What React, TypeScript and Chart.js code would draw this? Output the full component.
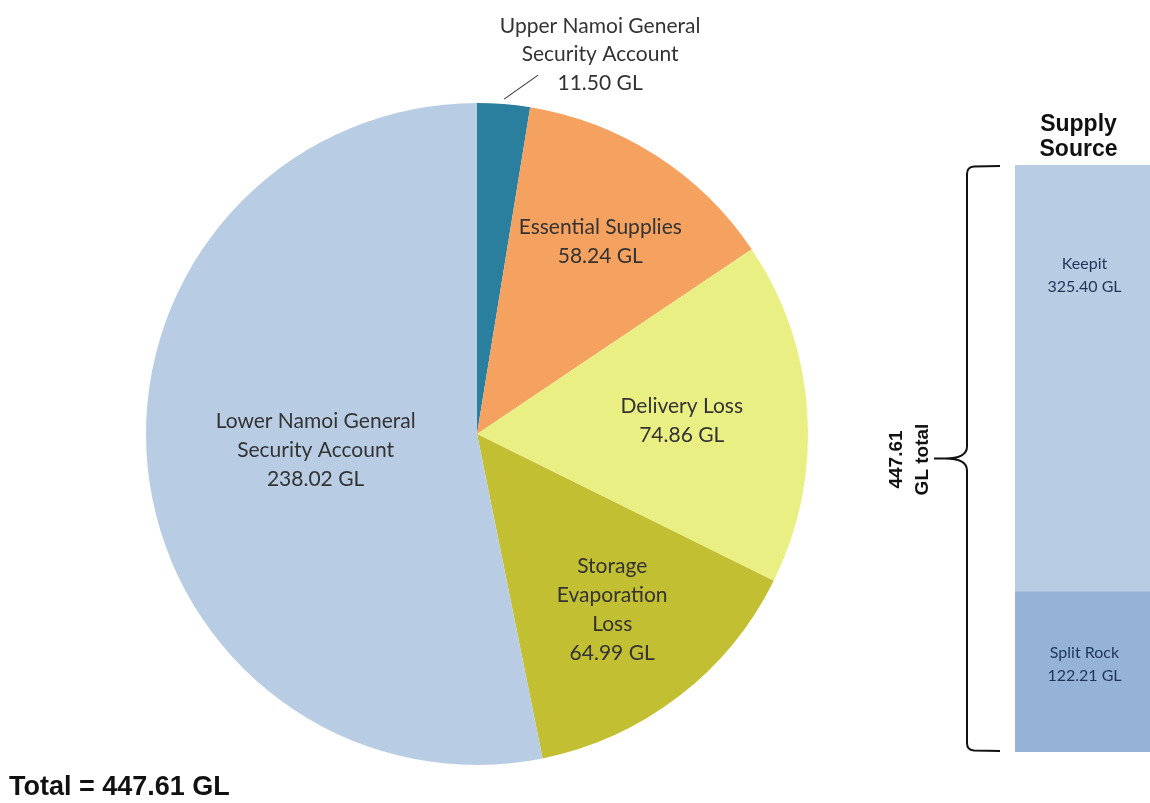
import React, { useEffect, useRef } from "react";
import { Chart, registerables } from "chart.js";

Chart.register(...registerables);

// ---------- data ----------
const categories = [
  "Upper Namoi General Security Account",
  "Essential Supplies",
  "Delivery Loss",
  "Storage Evaporation Loss",
  "Lower Namoi General Security Account",
];
const volumes = [11.5, 58.24, 74.86, 64.99, 238.02];
const labelLines = [
  ["Upper Namoi General", "Security Account"],
  ["Essential Supplies"],
  ["Delivery Loss"],
  ["Storage", "Evaporation", "Loss"],
  ["Lower Namoi General", "Security Account"],
];
const supplySources = ["Split Rock", "Keepit"];
const supplyVolumes = [122.21, 325.4];
const totalVolume = 447.61;
const totalText = "Total = 447.61 GL";
const supplyTitle = ["Supply", "Source"];
const bracketText = ["447.61", "GL total"];

// ---------- styles ----------
const sliceColors = ["#2b7f9e", "#f5a160", "#e9ef83", "#c3bf33", "#b8cce4"];
const supplyColors = ["#95b3d7", "#b8cce4"];
const labelRadius = [1.0, 0.69, 0.62, 0.67, 0.49];
const PIE_FONT = '"Lato", "Open Sans", sans-serif';
const BOLD_FONT = '"Liberation Sans", Arial, sans-serif';

const gl = (v: number) => `${v.toFixed(2)} GL`;

export default function App() {
  const pieRef = useRef<HTMLCanvasElement>(null);
  const barRef = useRef<HTMLCanvasElement>(null);

  useEffect(() => {
    const pieLabels = {
      id: "pieLabels",
      afterDraw(chart: any) {
        const ctx = chart.ctx;
        const meta = chart.getDatasetMeta(0);
        ctx.save();
        ctx.font = `21px ${PIE_FONT}`;
        ctx.fillStyle = "#333333";
        ctx.textAlign = "center";
        ctx.textBaseline = "middle";
        const lh = 29;
        meta.data.forEach((arc: any, i: number) => {
          const p = arc.getProps(["x", "y", "startAngle", "endAngle", "outerRadius"], true);
          const mid = (p.startAngle + p.endAngle) / 2;
          const lines = [...labelLines[i], gl(volumes[i])];
          if (i === 0) {
            const r = p.outerRadius * 1.015;
            const x1 = p.x + Math.cos(mid) * r;
            const y1 = p.y + Math.sin(mid) * r;
            ctx.strokeStyle = "#404040";
            ctx.lineWidth = 1.2;
            ctx.beginPath();
            ctx.moveTo(x1, y1);
            ctx.lineTo(x1 + 34, y1 - 24);
            ctx.stroke();
            const cx = x1 + 96;
            const lastY = y1 - 16;
            lines.forEach((t, k) => {
              ctx.fillText(t, cx, lastY - (lines.length - 1 - k) * 28.5);
            });
          } else {
            const r = p.outerRadius * labelRadius[i];
            const cx = p.x + Math.cos(mid) * r;
            const cy = p.y + Math.sin(mid) * r;
            const y0 = cy - ((lines.length - 1) * lh) / 2;
            lines.forEach((t, k) => ctx.fillText(t, cx, y0 + k * lh));
          }
        });
        ctx.font = `bold 27px ${BOLD_FONT}`;
        ctx.fillStyle = "#111";
        ctx.textAlign = "left";
        ctx.fillText(totalText, 9, 788);
        ctx.restore();
      },
    };

    const pie = new Chart(pieRef.current!, {
      type: "pie",
      data: {
        labels: categories,
        datasets: [
          {
            data: volumes,
            backgroundColor: sliceColors,
            borderWidth: 0,
          },
        ],
      },
      options: {
        animation: false,
        responsive: false,
        layout: { padding: { left: 146, top: 103, right: 342, bottom: 38 } },
        plugins: { legend: { display: false }, tooltip: { enabled: false } },
      },
      plugins: [pieLabels],
    });

    const barDecor = {
      id: "barDecor",
      afterDraw(chart: any) {
        const ctx = chart.ctx;
        const a = chart.chartArea;
        ctx.save();
        // segment labels
        ctx.font = `16px ${PIE_FONT}`;
        ctx.fillStyle = "#1f3558";
        ctx.textAlign = "center";
        ctx.textBaseline = "middle";
        supplySources.forEach((name, i) => {
          const el: any = chart.getDatasetMeta(i).data[0];
          const p = el.getProps(["x", "y", "base"], true);
          const top = Math.min(p.y, p.base);
          const bot = Math.max(p.y, p.base);
          const cy = i === 1 ? top + 110 : (top + bot) / 2 - 8;
          ctx.fillText(name, p.x + 2, cy - 11);
          ctx.fillText(gl(supplyVolumes[i]), p.x + 2, cy + 12);
        });
        // title
        ctx.font = `bold 23px ${BOLD_FONT}`;
        ctx.fillStyle = "#111";
        const tx = (a.left + a.right) / 2 - 4;
        ctx.fillText(supplyTitle[0], tx, a.top - 40);
        ctx.fillText(supplyTitle[1], tx, a.top - 15);
        // bracket
        const top = a.top + 1;
        const bot = a.bottom - 1;
        const mid = (top + bot) / 2;
        const xv = a.left - 48;
        const xe = a.left - 15;
        const xt = xv - 33;
        ctx.strokeStyle = "#111";
        ctx.lineWidth = 2;
        ctx.beginPath();
        ctx.moveTo(xe, top);
        ctx.lineTo(xv + 7, top + 0.5);
        ctx.quadraticCurveTo(xv, top + 1, xv, top + 8);
        ctx.lineTo(xv, mid - 12);
        ctx.quadraticCurveTo(xv, mid, xv - 22, mid);
        ctx.lineTo(xt, mid);
        ctx.moveTo(xv - 22, mid);
        ctx.quadraticCurveTo(xv, mid, xv, mid + 12);
        ctx.lineTo(xv, bot - 8);
        ctx.quadraticCurveTo(xv, bot - 1, xv + 7, bot - 0.5);
        ctx.lineTo(xe, bot);
        ctx.stroke();
        // rotated total text
        ctx.translate(xv - 57, mid + 1);
        ctx.rotate(-Math.PI / 2);
        ctx.font = `bold 19px ${BOLD_FONT}`;
        ctx.fillText(bracketText[0], 0, -13);
        ctx.fillText(bracketText[1], 0, 13);
        ctx.restore();
      },
    };

    const bar = new Chart(barRef.current!, {
      type: "bar",
      data: {
        labels: ["Supply Source"],
        datasets: supplySources.map((name, i) => ({
          label: name,
          data: [supplyVolumes[i]],
          backgroundColor: supplyColors[i],
          borderWidth: 0,
          barPercentage: 1,
          categoryPercentage: 1,
        })),
      },
      options: {
        animation: false,
        responsive: false,
        layout: { padding: { left: 155, top: 75, right: 0, bottom: 51 } },
        scales: {
          x: { display: false, stacked: true },
          y: { display: false, stacked: true, min: 0, max: totalVolume },
        },
        plugins: { legend: { display: false }, tooltip: { enabled: false } },
      },
      plugins: [barDecor],
    });

    return () => {
      pie.destroy();
      bar.destroy();
    };
  }, []);

  return (
    <div
      style={{
        position: "fixed",
        left: 0,
        top: 0,
        width: 1150,
        height: 803,
        background: "#fff",
        overflow: "hidden",
      }}
    >
      <canvas
        ref={pieRef}
        width={1150}
        height={803}
        style={{ position: "absolute", left: 0, top: 0, width: 1150, height: 803 }}
      />
      <canvas
        ref={barRef}
        width={290}
        height={713}
        style={{ position: "absolute", left: 860, top: 90, width: 290, height: 713 }}
      />
    </div>
  );
}
